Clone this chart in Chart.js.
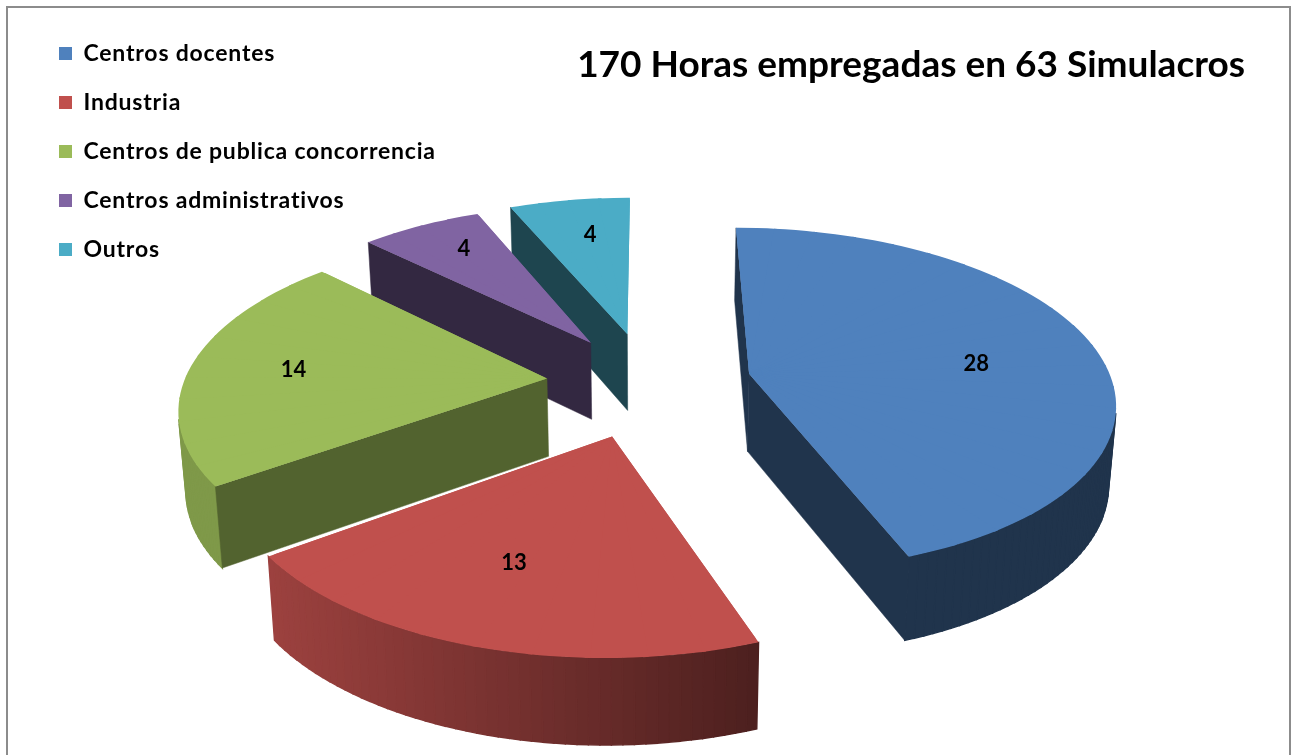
<!DOCTYPE html>
<html><head><meta charset="utf-8">
<style>html,body{margin:0;padding:0;background:#fff}canvas{display:block}</style>
<script src="https://cdn.jsdelivr.net/npm/chart.js@4"></script>
</head><body>
<canvas id="c" width="1291" height="755"></canvas>
<script>
const categories = ['Centros docentes','Industria','Centros de publica concorrencia','Centros administrativos','Outros'];
const values = [28,13,14,4,4];
const chartTitle = '170 Horas empregadas en 63 Simulacros';
const colors = ['#4f81bd','#c0504d','#9bbb59','#8064a2','#4bacc6'];
const sideShades = [0.40,0.40,0.53,0.40,0.40];
const explodes = [0.285,0.32,0.28,0.29,0.30];
const labelRadii = [0.64,0.65,0.71,0.77,0.71];
const labelTurns = [5,3,0,2,1.4];
const drawOrder = [4,3,0,2,1];
const camera = {cx:648, cy:382, sx:363, sy:170, q:0.15, depth:78, lean:0.016};

function shade(hex,f){
  const n=parseInt(hex.slice(1),16);
  return 'rgb('+[(n>>16)&255,(n>>8)&255,n&255].map(v=>Math.round(v*f)).join(',')+')';
}
function project(X,Y){
  const w=1+camera.q*Y;
  return {x:camera.cx+camera.sx*X/w, y:camera.cy-camera.sy*Y/w, w};
}
function lower(p){
  return {x:p.x-(p.x-camera.cx)*camera.lean, y:p.y+camera.depth/Math.sqrt(p.w)};
}
function quad(ctx,a,b,c,d,fill,lw){
  ctx.fillStyle=fill; ctx.strokeStyle=fill; ctx.lineWidth=lw;
  ctx.beginPath(); ctx.moveTo(a.x,a.y); ctx.lineTo(b.x,b.y); ctx.lineTo(c.x,c.y); ctx.lineTo(d.x,d.y); ctx.closePath();
  ctx.fill(); if(lw>0) ctx.stroke();
}
function rimShade(x){
  const t=Math.min(1,Math.max(0,(x-263)/(757-263)));
  return 0.82+(0.40-0.82)*t;
}
const legendSpacing='0.8px';
const pie3d = {
  id:'pie3d',
  beforeLayout(chart){ chart.ctx.letterSpacing=legendSpacing; },
  afterLayout(chart){ chart.ctx.letterSpacing='0px'; },
  beforeDraw(chart){
    const ctx=chart.ctx;
    ctx.save();
    ctx.strokeStyle='#8c8c8c'; ctx.lineWidth=2;
    ctx.beginPath(); ctx.moveTo(7,755); ctx.lineTo(7,7); ctx.lineTo(1290,7); ctx.lineTo(1290,755); ctx.stroke();
    ctx.restore();
    if(!chart.legend.$spaced){
      const legend=chart.legend, orig=legend.draw;
      legend.draw=function(){ ctx.save(); ctx.letterSpacing=legendSpacing; orig.call(legend); ctx.restore(); };
      legend.$spaced=true;
    }
  },
  beforeDatasetsDraw(chart){
    const ctx=chart.ctx, arcs=chart.getDatasetMeta(0).data;
    const labels=[];
    drawOrder.forEach(i=>{
      const arc=arcs[i], s=arc.startAngle, e=arc.endAngle, m=(s+e)/2, d=explodes[i], R=arc.outerRadius;
      const ax=d*Math.cos(m), ay=-d*Math.sin(m);
      const rim=(a,f=1)=>project(ax+f*Math.cos(a), ay-f*Math.sin(a));
      const A=project(ax,ay), P1=rim(s), P2=rim(e);
      // outer wall
      const steps=Math.max(2,Math.ceil((e-s)/(Math.PI/120)));
      for(let k=0;k<steps;k++){
        const a=s+(e-s)*k/steps, b=s+(e-s)*(k+1)/steps;
        const pa=rim(a), pb=rim(b), la=lower(pa), lb=lower(pb);
        const area=(pb.x-pa.x)*(lb.y-pa.y)-(pb.y-pa.y)*(lb.x-pa.x);
        if(area<0) quad(ctx,pa,pb,lb,la,shade(colors[i],rimShade((pa.x+pb.x)/2)),1.4);
      }
      // radial walls that face the viewer
      [[P1,P2],[P2,P1]].forEach(([P,T])=>{
        const ex=P.x-A.x, ey=P.y-A.y;
        const crossT=ex*(T.y-A.y)-ey*(T.x-A.x), crossD=ex;
        if(crossT*crossD<0 && Math.abs(ex)>6) quad(ctx,A,P,lower(P),lower(A),shade(colors[i],sideShades[i]),0.5);
      });
      // underlay that closes the seams between the sectors below
      ctx.fillStyle=colors[i];
      ctx.beginPath(); ctx.moveTo(A.x,A.y);
      for(let k=0;k<=steps;k++){ const p=rim(s+(e-s)*k/steps,0.985); ctx.lineTo(p.x,p.y); }
      ctx.closePath(); ctx.fill();
      // top face: the library's own arc, split into small sectors, each mapped by the camera
      const sub=Math.max(1,Math.ceil((e-s)/(Math.PI/24)));
      for(let k=0;k<sub;k++){
        const a=s+(e-s)*k/sub, b=s+(e-s)*(k+1)/sub;
        const D1=rim(a), D2=rim(b);
        const u1=R*Math.cos(a), v1=R*Math.sin(a), u2=R*Math.cos(b), v2=R*Math.sin(b);
        const det=u1*v2-u2*v1;
        const x1=D1.x-A.x, y1=D1.y-A.y, x2=D2.x-A.x, y2=D2.y-A.y;
        const m11=(x1*v2-x2*v1)/det, m12=(x2*u1-x1*u2)/det;
        const m21=(y1*v2-y2*v1)/det, m22=(y2*u1-y1*u2)/det;
        ctx.save();
        ctx.setTransform(m11,m21,m12,m22,A.x-m11*arc.x-m12*arc.y,A.y-m21*arc.x-m22*arc.y);
        const piece=Object.create(arc);
        piece.startAngle=a-(k>0?0.006:0);
        piece.endAngle=b+(k<sub-1?0.006:0);
        piece.circumference=piece.endAngle-piece.startAngle;
        piece.draw(ctx);
        ctx.restore();
      }
      const r=labelRadii[i], lm=m+labelTurns[i]*Math.PI/180;
      labels.push({text:String(chart.data.datasets[0].data[i]),p:project(ax+r*Math.cos(lm),ay-r*Math.sin(lm))});
    });
    ctx.save();
    ctx.fillStyle='#000'; ctx.font='700 22px Lato'; ctx.textAlign='center'; ctx.textBaseline='middle';
    labels.forEach(l=>ctx.fillText(l.text,l.p.x,l.p.y));
    ctx.restore();
    return false;
  }
};
new Chart(document.getElementById('c'),{
  type:'pie',
  data:{labels:categories,datasets:[{data:values,backgroundColor:colors,borderWidth:0,hoverOffset:0}]},
  options:{
    responsive:false,animation:false,
    layout:{padding:{left:33,top:16,right:46,bottom:0}},
    plugins:{
      tooltip:{enabled:false},
      title:{display:true,text:chartTitle,align:'end',fullSize:false,color:'#000',
        font:{family:'Lato',weight:'700',size:37},padding:{top:27,bottom:0}},
      legend:{position:'left',align:'start',
        labels:{boxWidth:13,boxHeight:13,padding:26,color:'#000',font:{family:'Lato',weight:'700',size:23}}}
    }
  },
  plugins:[pie3d]
});
</script>
</body></html>
